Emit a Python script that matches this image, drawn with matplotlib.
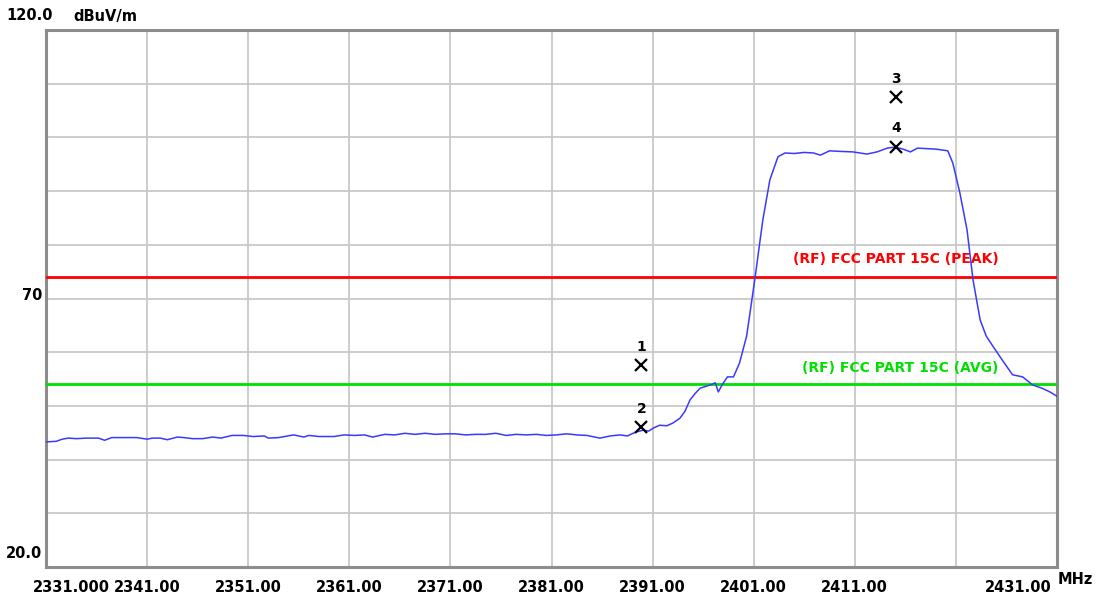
import matplotlib.pyplot as plt

# trace (MHz, dBuV/m)
freq = [2331.0, 2332.0, 2332.6, 2333.2, 2334.0, 2335.0, 2336.2, 2336.8, 2337.5, 2338.3,
        2340.0, 2341.0, 2341.5, 2342.3, 2343.0, 2344.0, 2344.6, 2345.5, 2346.5, 2347.5,
        2348.3, 2349.4, 2350.5, 2351.5, 2352.6, 2353.0, 2354.0, 2355.5, 2356.5, 2357.0,
        2358.0, 2359.5, 2360.5, 2361.5, 2362.5, 2363.3, 2364.5, 2365.5, 2366.5, 2367.5,
        2368.5, 2369.5, 2370.5, 2371.5, 2372.5, 2373.5, 2374.5, 2375.5, 2376.5, 2377.5,
        2378.5, 2379.5, 2380.5, 2381.5, 2382.5, 2383.5, 2384.5, 2385.8, 2386.8, 2387.8,
        2388.5, 2389.3, 2390.1, 2390.6, 2391.1, 2391.7, 2392.4, 2393.0, 2393.7, 2394.2,
        2394.7, 2395.2, 2395.7, 2396.2, 2396.7, 2397.2, 2397.5, 2397.9, 2398.4, 2399.0,
        2399.6, 2400.3, 2401.1, 2401.9, 2402.6, 2403.4, 2404.1, 2405.0, 2406.0, 2406.9,
        2407.6, 2408.5, 2409.5, 2410.8, 2411.5, 2412.2, 2413.2, 2414.2, 2415.0, 2415.8,
        2416.5, 2417.2, 2418.2, 2419.1, 2420.2, 2420.7, 2421.4, 2422.1, 2422.7, 2423.4,
        2424.0, 2424.7, 2425.6, 2426.6, 2427.6, 2428.6, 2429.5, 2430.3, 2431.0]
level = [43.3, 43.4, 43.8, 44.0, 43.9, 44.0, 44.0, 43.6, 44.1, 44.1,
         44.1, 43.8, 44.0, 44.0, 43.7, 44.2, 44.1, 43.9, 43.9, 44.2,
         44.0, 44.5, 44.5, 44.3, 44.4, 44.0, 44.1, 44.6, 44.2, 44.5,
         44.3, 44.3, 44.6, 44.5, 44.6, 44.2, 44.7, 44.6, 44.9, 44.7,
         44.9, 44.7, 44.8, 44.8, 44.6, 44.7, 44.7, 44.9, 44.5, 44.7,
         44.6, 44.7, 44.5, 44.6, 44.8, 44.6, 44.5, 44.0, 44.4, 44.6,
         44.4, 45.1, 45.5, 45.3, 45.9, 46.4, 46.3, 46.8, 47.7, 49.0,
         51.1, 52.3, 53.3, 53.6, 53.9, 54.3, 52.6, 54.0, 55.4, 55.4,
         58.0, 63.0, 73.4, 84.6, 92.1, 96.4, 97.1, 97.0, 97.2, 97.1,
         96.7, 97.5, 97.4, 97.3, 97.1, 96.9, 97.3, 98.0, 98.2, 97.8,
         97.3, 98.0, 97.9, 97.8, 97.5, 95.2, 89.6, 82.8, 73.4, 66.0,
         63.0, 61.0, 58.5, 55.8, 55.4, 53.9, 53.3, 52.6, 51.8]

peak_limit = 74.0
avg_limit = 54.0

marker_ids = ['1', '2', '3', '4']
marker_freq = [2389.9, 2389.9, 2415.1, 2415.1]
marker_level = [57.6, 46.0, 107.5, 98.3]

xticks = [2331, 2341, 2351, 2361, 2371, 2381, 2391, 2401, 2411, 2421, 2431]
xlabels = ['2331.000', '2341.00', '2351.00', '2361.00', '2371.00', '2381.00',
           '2391.00', '2401.00', '2411.00', '', '2431.00']

plt.rcParams['font.family'] = ['DejaVu Sans']
plt.rcParams['font.weight'] = 'bold'

fig = plt.figure(figsize=(10.98, 5.94), dpi=100)
ax = fig.add_axes([46 / 1098, 1 - 567 / 594, 1011 / 1098, 537 / 594])

ax.set_xlim(2331, 2431)
ax.set_ylim(20, 120)
ax.set_xticks(xticks)
ax.set_yticks(range(20, 121, 10))
ax.set_xticklabels([])
ax.set_yticklabels([])
ax.tick_params(length=0)
ax.grid(True, color='#c8c8c8', linewidth=1.3)
for s in ax.spines.values():
    s.set_color('#8c8c8c')
    s.set_linewidth(2.2)

ax.axhline(peak_limit, color='#ff0000', linewidth=2, zorder=3)
ax.axhline(avg_limit, color='#00e000', linewidth=2, zorder=3)
ax.text(2425.2, 77.3, '(RF) FCC PART 15C (PEAK)', color='#ff0000', ha='right',
        va='center', fontsize=10)
ax.text(2425.2, 57.0, '(RF) FCC PART 15C (AVG)', color='#00e000', ha='right',
        va='center', fontsize=10)

ax.plot(freq, level, color='#3a3aff', linewidth=1.1, zorder=4)

ax.plot(marker_freq, marker_level, 'x', color='black', markersize=8,
        markeredgewidth=1.6, zorder=5)
for m, f, v in zip(marker_ids, marker_freq, marker_level):
    ax.text(f, v + 3.4, m, ha='center', va='center', fontsize=10)

# x labels below the frame
lab_pos = [2333.5, 2341, 2351, 2361, 2371, 2381, 2391, 2401, 2411, 2421, 2427.2]
for p, t in zip(lab_pos, xlabels):
    ax.text(p, -0.024, t, transform=ax.get_xaxis_transform(), ha='center',
            va='top', fontsize=10.5)
fig.text(1058 / 1098, 1 - 580 / 594, 'MHz', ha='left', va='center', fontsize=10.5)

# y labels
fig.text(53 / 1098, 1 - 16 / 594, '120.0', ha='right', va='center', fontsize=10.5)
fig.text(73 / 1098, 1 - 16 / 594, 'dBuV/m', ha='left', va='center', fontsize=10.5)
fig.text(42 / 1098, 1 - 295 / 594, '70', ha='right', va='center', fontsize=10.5)
fig.text(42 / 1098, 1 - 553 / 594, '20.0', ha='right', va='center', fontsize=10.5)

fig.savefig('out.png', dpi=100)
